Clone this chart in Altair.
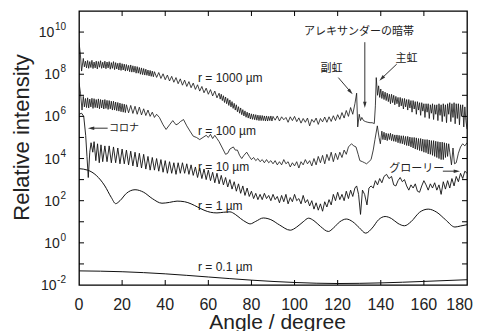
import altair as alt
import pandas as pd

W, H = 388, 274
FONT = "Liberation Sans"
JFONT = "Noto Sans CJK JP"
INK = "#111111"

# ---- curves: (angle in degree, log10 of relative intensity) ----
R1000 = [(0,9.5),(0.6,9.0),(1.2,8.15),(2,8.75),(2.5,8.35),
(3,8.62),(3.5,8.3),(4,8.65),(4.5,8.28),(5,8.6),(5.5,8.32),(6,8.66),(6.5,8.27),(7,8.58),(7.5,8.3),
(8,8.62),(8.5,8.25),(9,8.6),(9.5,8.33),(10,8.64),(10.5,8.28),(11,8.57),(11.5,8.3),(12,8.62),(12.5,8.26),
(13,8.58),(13.5,8.3),(14,8.6),(14.5,8.24),(15,8.55),(15.5,8.28),(16,8.6),(16.5,8.22),(17,8.55),(17.5,8.25),
(18,8.52),(18.5,8.2),(19,8.54),(19.5,8.18),(20,8.5),(20.5,8.2),(21,8.48),(21.5,8.15),(22,8.46),(22.5,8.17),
(23,8.42),(23.5,8.12),(24,8.44),(24.5,8.1),(25,8.4),(25.5,8.1),(26,8.38),(26.5,8.05),(27,8.36),(27.5,8.05),
(28,8.32),(28.5,8.0),(29,8.3),(29.5,7.98),(30,8.27),(30.5,7.96),(31,8.24),(31.5,7.95),(32,8.2),(32.5,7.92),
(33,8.18),(33.5,7.9),(34,8.15),(34.5,7.88),(35,8.12),
(36,7.85),(37,8.08),(38,7.8),(39,8.02),(40,7.74),(41,7.96),(42,7.68),(43,7.9),(44,7.62),(45,7.84),
(46,7.55),(47,7.78),(48,7.48),(49,7.72),(50,7.42),(51,7.65),(52,7.36),(53,7.58),(54,7.28),(55,7.5),
(56,7.2),(57,7.42),(58,7.12),(59,7.34),(60,7.05),(61,7.27),(62,6.97),(63,7.2),(64,6.88),(65,7.1),
(65.5,6.82),(66,7.05),(66.5,6.75),(67,6.98),(67.5,6.66),(68,6.92),(68.5,6.6),(69,6.85),(69.5,6.52),(70,6.78),
(70.5,6.45),(71,6.7),(71.5,6.38),(72,6.62),(72.5,6.3),(73,6.55),(73.5,6.22),(74,6.46),(74.5,6.15),(75,6.4),
(75.5,6.08),(76,6.32),(76.5,6.02),(77,6.26),(77.5,5.96),(78,6.2),(78.5,5.92),(79,6.16),(79.5,5.88),(80,6.12),
(80.5,5.86),(81,6.1),(81.5,5.84),(82,6.08),(82.5,5.82),(83,6.06),(83.5,5.8),(84,6.05),(84.5,5.8),(85,6.04),
(85.5,5.8),(86,6.02),(86.5,5.78),(87,6.02),(87.5,5.78),(88,6.0),(88.5,5.8),(89,6.02),(89.5,5.78),(90,6.0),
(91,5.82),(92,6.02),(93,5.78),(94,5.98),(95,5.84),(96,5.95),(97,5.72),(98,5.98),(99,5.8),(100,6.0),
(101,5.75),(102,5.93),(103,5.68),(104,5.9),(105,5.72),(106,5.92),(107,5.55),(108,5.86),(109,5.72),(110,5.92),
(111,5.62),(112,5.9),(113,5.74),(114,5.97),(115,5.72),(116,5.98),(117,5.76),(118,6.03),(119,5.8),(120,6.08),
(121,5.86),(122,6.18),(123,5.92),(124,6.28),(125,6.0),(126,6.42),(127,6.1),(128,6.6),
(128.8,7.1),(129.3,5.5),(130,6.1),(130.6,5.8),(131.2,5.95),(132,5.8),(133,5.75),(134,5.72),(135,5.7),(136,5.7),
(137,5.66),(137.5,6.5),(137.9,7.84),(138.5,7.0),(139,7.45),(139.5,6.9),
(140,7.3),(140.5,6.85),(141,7.2),(141.5,6.8),(142,7.15),(142.5,6.75),(143,7.1),(143.5,6.7),(144,7.05),(144.5,6.6),
(145,7.05),(145.5,6.65),(146,7.0),(146.5,6.55),(147,6.95),(147.5,6.6),(148,6.9),(148.5,6.45),(149,6.9),(149.5,6.5),
(150,6.85),(150.5,6.35),(151,6.85),(151.5,6.45),(152,6.8),(152.5,6.3),(153,6.8),(153.5,6.4),(154,6.75),(154.5,6.2),
(155,6.75),(155.5,6.35),(156,6.7),(156.5,6.1),(157,6.7),(157.5,6.3),(158,6.65),(158.5,6.05),(159,6.65),(159.5,6.25),
(160,6.6),(160.5,5.95),(161,6.6),(161.5,6.2),(162,6.6),(162.5,5.9),(163,6.55),(163.5,6.15),(164,6.6),(164.5,5.85),
(165,6.55),(165.5,6.1),(166,6.55),(166.5,5.8),(167,6.6),(167.5,6.05),(168,6.55),(168.5,5.75),(169,6.6),(169.5,6.0),
(170,6.55),(170.5,5.7),(171,6.6),(171.5,6.1),(172,6.65),(172.5,5.75),(173,6.6),(173.5,5.95),(174,6.65),(174.5,5.65),
(175,6.6),(175.5,5.9),(176,6.6),(176.5,5.6),(177,6.55),(177.5,6.0),(178,6.55),(178.5,5.5),(179,6.45),(179.5,5.8),
(180,5.4)]

R100 = [(0,7.6),(0.7,7.1),(1.4,6.3),(2,6.95),(2.5,6.45),
(3,6.85),(3.5,6.42),(4,6.88),(4.5,6.4),(5,6.82),(5.5,6.45),(6,6.86),(6.5,6.38),(7,6.84),(7.5,6.42),
(8,6.8),(8.5,6.4),(9,6.83),(9.5,6.36),(10,6.8),(10.5,6.4),(11,6.78),(11.5,6.35),(12,6.8),(12.5,6.38),
(13,6.76),(13.5,6.33),(14,6.75),(14.5,6.36),(15,6.72),(15.5,6.3),(16,6.72),(16.5,6.3),(17,6.68),(17.5,6.27),
(18,6.66),(18.5,6.25),(19,6.63),(19.5,6.22),(20,6.6),(20.5,6.2),(21,6.58),(21.5,6.18),(22,6.55),
(23,6.17),(24,6.52),(25,6.14),(26,6.48),(27,6.1),(28,6.44),(29,6.07),(30,6.36),(31,6.04),(32,6.3),
(33,6.0),(34,6.2),(35,5.95),(36,6.1),(37.3,5.95),(39,5.6),
(40.4,5.38),(42,5.6),(43.5,5.8),(45,5.6),(46,5.65),(47,5.75),(48.5,5.85),(50,5.55),(51.5,5.3),(53,5.06),
(54.5,5.0),(56,4.9),(57.5,5.0),(59,5.1),(60,5.0),(61,5.15),(62,4.95),(63,5.1),(64,4.95),(65,4.8),
(66.5,4.5),(68,4.2),(69,4.25),(70,4.45),(71.6,4.55),(72.5,4.4),(73.5,4.4),(74.5,4.15),(75.5,4.0),(76.5,4.15),
(77.8,4.3),(79,4.1),(80,3.95),(81,4.05),(82,3.9),(83,4.0),(84,3.85),(85,3.95),(86,3.8),(87,3.95),
(88,3.8),(89,3.9),(90,3.75),(91,3.9),(92,3.7),(93,3.85),(94,3.7),(95,3.95),(96,3.75),(97,3.85),
(98,3.6),(99,3.8),(100,3.65),(101,3.85),(102,3.55),(103,3.85),(104,3.7),(105,3.95),(106,3.75),(107,3.9),
(108,3.65),(109,4.0),(110,3.7),(111,4.1),(112,3.8),(113,4.15),(114,3.75),(115,4.2),(116,3.9),(117,4.3),
(118,3.85),(119,4.25),(120,3.95),(121,4.3),(122,4.05),(123,4.4),(124,4.2),(125,4.55),(126.4,4.7),(127.5,4.6),
(128.5,4.55),(129.5,4.2),(130.3,3.9),(131.5,3.85),(132.5,3.8),(133.4,3.75),(134.5,3.85),(135.5,3.95),(136.5,4.4),(137.3,4.9),
(138.4,5.55),(139.2,5.0),(139.8,4.7),
(140.5,5.3),(141,4.9),(141.5,5.25),(142,4.88),(142.5,5.2),(143,4.85),(143.5,5.18),(144,4.9),(144.5,5.2),(145,4.85),
(145.5,5.15),(146,4.82),(146.5,5.12),(147,4.8),(147.5,5.12),(148,4.75),(148.5,5.1),(149,4.72),(149.5,5.08),(150,4.7),
(150.5,5.08),(151,4.66),(151.5,5.05),(152,4.62),(152.5,5.05),(153,4.6),(153.5,5.02),(154,4.55),(154.5,5.0),(155,4.5),
(155.5,5.0),(156,4.45),(156.5,4.98),(157,4.42),(157.5,4.95),(158,4.38),(158.5,4.95),(159,4.35),(159.5,4.92),(160,4.3),
(160.5,4.9),(161,4.28),(161.5,4.9),(162,4.22),(162.5,4.88),(163,4.2),(163.5,4.85),(164,4.15),(164.5,4.85),(165,4.1),
(165.5,4.82),(166,4.05),(166.5,4.8),(167,4.0),(167.5,4.78),(168,3.95),(168.5,4.78),(169,3.95),(169.5,4.75),(170,4.05),
(170.5,4.72),(171,4.1),(171.5,4.7),(172,4.3),(172.8,3.7),(173.5,4.5),(174.2,3.75),(175,3.8),(176,4.25),(177,4.55),
(178,4.7),(179,4.6),(180,4.75)]

R10 = [(0,6.1),(1.2,6.15),(2.2,6.0),(3.1,5.1),(3.7,4.1),(4.3,3.1),(5,4.3),(5.6,4.75),(6.4,4.3),(7,4.8),
(7.8,3.9),(8.6,4.7),(9.4,3.8),(10.2,4.65),(11,3.85),(12,4.6),(13,3.85),(14,4.6),(15,3.8),(16,4.55),
(17,3.8),(18,4.5),(19,3.75),(20,4.45),(21,3.75),(22,4.4),(23,3.7),(24,4.35),(25,3.65),(26,4.3),
(27,3.6),(28,4.25),(29,3.55),(30,4.2),(31,3.5),(32,4.1),(33,3.45),(34,4.05),(35,3.45),(36,4.0),
(37,3.4),(38,3.95),(39,3.35),(40,3.9),(41,3.3),(42,3.85),(43,3.3),(44,3.8),(45,3.25),(46,3.8),
(47,3.3),(48,3.8),(49,3.3),(50,3.75),(51,3.25),(52,3.7),(53,3.2),(54,3.6),(55,3.1),(56,3.55),
(57,3.05),(58,3.5),(59,3.0),(60,3.45),(61,2.95),(62,3.35),(63,2.85),(64,3.3),(65,2.8),(66,3.2),
(67,2.75),(68,3.1),(69,2.65),(70,3.0),(71,2.55),(72,2.9),(73,2.45),(74,2.8),(75,2.35),(76,2.7),
(77,2.25),(78,2.6),(79,2.2),(80,2.45),(81,2.1),(82,2.35),(83,2.05),(84,2.3),(85,2.05),(86,2.35),
(87,2.1),(88,2.25),(89,2.0),(90,2.3),(91,2.05),(92,2.2),(93,1.9),(94,2.25),(95,1.95),(96,2.3),
(97,1.85),(98,2.15),(99,1.95),(100,2.3),(101,2.0),(102,2.1),(103,1.85),(104,2.25),(105,1.9),(106,2.05),
(107,1.75),(108,2.0),(109,1.6),(110,1.9),(111,1.55),(112,1.85),(113,1.5),(114,1.95),(115,1.7),(116,2.05),
(117,1.8),(118,2.3),(119,2.0),(120,2.4),(121,2.05),(122,2.3),(123,2.0),(124,2.45),(125,2.1),(126,2.5),
(127,2.2),(128,2.6),(128.8,2.7),(129.7,2.3),(130.6,1.35),(131.5,2.5),(132.5,2.3),(133.6,1.8),(134.5,2.6),(135.5,2.7),
(136.5,2.6),(137.5,2.95),(138.5,2.75),(139.5,3.05),(140.5,2.85),(141.5,3.15),(142.7,3.25),(143.8,3.05),(145,3.15),(146,2.75),
(147,2.7),(148,2.95),(149,3.1),(150,2.9),(151,3.0),(152,2.7),(153,2.5),(154,2.75),(155,2.6),(156,2.8),
(157,2.45),(158,2.4),(159,2.7),(160,2.95),(161,2.75),(162,2.5),(163,2.8),(164,2.6),(165,2.85),(166,2.5),
(167,2.75),(168,2.3),(169,2.9),(170,2.55),(171,2.95),(172,2.6),(173,3.05),(174,2.7),(175,3.15),(176,2.9),
(177,3.3),(178,3.05),(179,3.4),(180,3.3)]

R1 = [(0,3.52),(4,3.45),(8,3.2),(12,2.7),(15,2.15),(17,1.86),(19,2.0),(22,2.35),(26,2.52),(30,2.4),
(34,2.1),(38.5,1.88),(42,1.92),(45.5,1.98),(49,1.95),(52,1.85),(55,1.7),(58,1.55),(61,1.45),(64,1.42),
(67,1.45),(70,1.47),(72.5,1.35),(75,1.15),(77.5,0.98),(79.4,0.9),(82,1.02),(85.5,1.18),(89,1.1),(93,0.85),
(98,0.6),(101,0.75),(104,1.0),(106.5,1.17),(109,1.05),(112,0.78),(115.7,0.54),(118,0.7),(121,1.0),(124,1.13),
(127,1.0),(130,0.72),(133,0.46),(136,0.7),(139,1.1),(142,1.25),(145,1.15),(148,0.92),(151,0.81),(154,1.0),
(158,1.45),(162,1.6),(166,1.45),(170,1.1),(174.4,0.75),(177,0.8),(180,0.86)]

R01 = [(0,-1.33),(20,-1.37),(40,-1.47),(60,-1.62),(80,-1.77),(100,-1.88),(120,-1.93),(140,-1.9),(160,-1.83),(180,-1.75)]

# ---- axes ----
X_LABELS = [0, 20, 40, 60, 80, 100, 120, 140, 160]
X_LAST_LABEL = 180
X_TICKS = [20, 40, 60, 80, 100, 120, 140, 160]
Y_TICK_EXP = [-1, 0, 1, 2, 3, 4, 5, 6, 7, 8, 9, 10]
Y_LABEL_EXP = ["-2", "0", "2", "4", "6", "8", "10"]

# ---- labels and notes ----
CURVE_LABELS = ["r = 1000 \u00b5m", "r = 100 \u00b5m", "r = 10 \u00b5m", "r = 1 \u00b5m", "r = 0.1 \u00b5m"]
CURVE_LABEL_LOG = [7.81, 5.33, 3.59, 1.73, -1.13]
CURVE_LABEL_ANGLE = [55.2, 55.2, 55.2, 55.2, 55.2]

NOTE_TEXT = ["アレキサンダーの暗帯", "副虹", "主虹", "グローリー", "コロナ"]
NOTE_ANGLE = [129.9, 117.1, 151.9, 143.9, 13.9]
NOTE_LOG = [9.99, 8.24, 8.71, 3.48, 5.44]
NOTE_ALIGN = ["center", "center", "center", "left", "left"]
NOTE_SIZE = [11, 11, 11, 11, 10]

ARROW_X1 = [13.3, 132.6, 120.3, 147.4, 168.8]
ARROW_Y1 = [5.44, 9.52, 7.84, 8.48, 3.4]
ARROW_X2 = [5.6, 132.6, 126.0, 140.4, 175.3]
ARROW_Y2 = [5.44, 6.55, 7.16, 7.80, 3.4]
ARROW_ROT = [270, 180, 139, 226, 90]

xs = alt.Scale(domain=[0, 180], nice=False, zero=False)
ys = alt.Scale(type="log", domain=[1e-2, 1e11], nice=False)

layers = []

def curve(rows, interp, sw):
    df = pd.DataFrame({"angle": [a for a, _ in rows],
                       "I": [10 ** v for _, v in rows],
                       "i": list(range(len(rows)))})
    return alt.Chart(df).mark_line(color=INK, strokeWidth=sw, interpolate=interp, clip=True).encode(
        x=alt.X("angle:Q", scale=xs, axis=None),
        y=alt.Y("I:Q", scale=ys, axis=None),
        order="i:Q")

layers.append(curve(R01, "monotone", 1.0))
layers.append(curve(R1, "monotone", 1.0))
layers.append(curve(R10, "linear", 0.9))
layers.append(curve(R100, "linear", 0.8))
layers.append(curve(R1000, "linear", 0.8))

# inward ticks on all four sides
xt = pd.DataFrame({"a": X_TICKS})
yt = pd.DataFrame({"v": [10.0 ** e for e in Y_TICK_EXP]})
for y0, y1 in [(H, H - 5), (0, 5)]:
    layers.append(alt.Chart(xt).mark_rule(color="black", strokeWidth=1).encode(
        x=alt.X("a:Q", scale=xs, axis=None), y=alt.value(y0), y2=alt.value(y1)))
for x0, x1 in [(0, 5), (W, W - 5)]:
    layers.append(alt.Chart(yt).mark_rule(color="black", strokeWidth=1).encode(
        y=alt.Y("v:Q", scale=ys, axis=None), x=alt.value(x0), x2=alt.value(x1)))

# x tick labels
xl = pd.DataFrame({"a": X_LABELS, "t": [str(v) for v in X_LABELS]})
layers.append(alt.Chart(xl).mark_text(font=FONT, fontSize=16, color="#222", align="center",
                                      baseline="alphabetic").encode(
    x=alt.X("a:Q", scale=xs, axis=None), y=alt.value(H + 25), text="t:N"))
# the last label would pass the page edge: keep it just inside
layers.append(alt.Chart(pd.DataFrame({"t": [str(X_LAST_LABEL)]})).mark_text(
    font=FONT, fontSize=16, color="#222", align="right", baseline="alphabetic").encode(
    x=alt.value(W + 6), y=alt.value(H + 25), text="t:N"))

# y tick labels: "10" plus a raised exponent, right aligned together
def exp_width(s):
    return sum(3.4 if c == "-" else 5.6 for c in s)

for e in Y_LABEL_EXP:
    d = pd.DataFrame({"v": [10.0 ** int(e)], "b": ["10"], "e": [e]})
    right = -13
    layers.append(alt.Chart(d).mark_text(font=FONT, fontSize=10, color="#222", align="right",
                                         baseline="middle", dy=-5).encode(
        y=alt.Y("v:Q", scale=ys, axis=None), x=alt.value(right), text="e:N"))
    layers.append(alt.Chart(d).mark_text(font=FONT, fontSize=14, color="#222", align="right",
                                         baseline="middle", dy=1).encode(
        y=alt.Y("v:Q", scale=ys, axis=None), x=alt.value(right - exp_width(e) - 0.5), text="b:N"))

# axis titles
layers.append(alt.Chart(pd.DataFrame({"t": ["Relative intensity"]})).mark_text(
    font=FONT, fontSize=22, color="#222", angle=270, align="center", baseline="alphabetic").encode(
    x=alt.value(-50.5), y=alt.value(126.5), text="t:N"))
layers.append(alt.Chart(pd.DataFrame({"t": ["Angle / degree"]})).mark_text(
    font=FONT, fontSize=21, color="#222", align="center", baseline="alphabetic").encode(
    x=alt.value(198.5), y=alt.value(H + 44), text="t:N"))

# curve labels
cl = pd.DataFrame({"a": CURVE_LABEL_ANGLE, "I": [10 ** v for v in CURVE_LABEL_LOG], "t": CURVE_LABELS})
layers.append(alt.Chart(cl).mark_text(font=FONT, fontSize=12, color="#222", align="left",
                                      baseline="middle").encode(
    x=alt.X("a:Q", scale=xs, axis=None), y=alt.Y("I:Q", scale=ys, axis=None), text="t:N"))

# notes (Japanese)
for t, a, lg, al, fs in zip(NOTE_TEXT, NOTE_ANGLE, NOTE_LOG, NOTE_ALIGN, NOTE_SIZE):
    d = pd.DataFrame({"a": [a], "I": [10 ** lg], "t": [t]})
    layers.append(alt.Chart(d).mark_text(font=JFONT, fontSize=fs, color="#222", align=al,
                                         baseline="middle").encode(
        x=alt.X("a:Q", scale=xs, axis=None), y=alt.Y("I:Q", scale=ys, axis=None), text="t:N"))

# arrows
ad = pd.DataFrame({"x1": ARROW_X1, "y1": [10 ** v for v in ARROW_Y1],
                   "x2": ARROW_X2, "y2": [10 ** v for v in ARROW_Y2], "rot": ARROW_ROT})
layers.append(alt.Chart(ad).mark_rule(color="#333", strokeWidth=1).encode(
    x=alt.X("x1:Q", scale=xs, axis=None), x2="x2:Q",
    y=alt.Y("y1:Q", scale=ys, axis=None), y2="y2:Q"))
layers.append(alt.Chart(ad).mark_point(shape="M0,-1L0.55,1L-0.55,1Z", filled=True, size=40,
                                       color="#333", opacity=1).encode(
    x=alt.X("x2:Q", scale=xs, axis=None), y=alt.Y("y2:Q", scale=ys, axis=None),
    angle=alt.Angle("rot:Q", scale=None)))

chart = alt.layer(*layers).properties(
    width=W, height=H,
    padding={"left": 71, "top": 3, "right": 6, "bottom": 46},
    autosize=alt.AutoSizeParams(type="none"),
    background="white",
).configure_view(stroke="black", strokeWidth=1.3)

chart.save("out.html", embed_options={"renderer": "svg", "actions": False})
